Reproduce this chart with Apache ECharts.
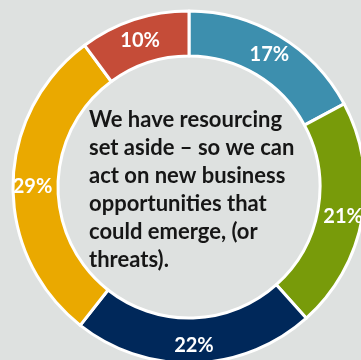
<!DOCTYPE html>
<html>
<head>
<meta charset="utf-8">
<script src="https://cdn.jsdelivr.net/npm/echarts@6/dist/echarts.min.js"></script>
<style>
  html, body { margin: 0; padding: 0; background: #dee1e0; }
  #chart { width: 361px; height: 360px; }
</style>
</head>
<body>
<div id="chart"></div>
<script>
// Share of responses, clockwise from the top
const categories = ['Blue', 'Green', 'Navy', 'Gold', 'Red'];
const values = [17, 21, 22, 29, 10];
const colors = ['#3d8fae', '#789b0a', '#00285a', '#eaa900', '#c54c38'];
const centerLines = [
  'We have resourcing',
  'set aside \u2013 so we can',
  'act on new business',
  'opportunities that',
  'could emerge, (or',
  'threats).'
];

const chart = echarts.init(document.getElementById('chart'), null, { renderer: 'canvas' });

chart.setOption({
  backgroundColor: '#dee1e0',
  animation: false,
  series: [{
    type: 'pie',
    center: [189, 187],
    radius: [131, 176],
    startAngle: 90,
    clockwise: true,
    avoidLabelOverlap: false,
    itemStyle: { borderColor: '#ffffff', borderWidth: 3 },
    label: {
      show: true,
      position: 'inside',
      formatter: '{c}%',
      color: '#ffffff',
      fontFamily: 'Lato',
      fontWeight: 'bold',
      fontSize: 20,
      offset: [0, 2]
    },
    labelLine: { show: false },
    emphasis: { disabled: true },
    data: categories.map((name, i) => ({
      name: name,
      value: values[i],
      itemStyle: { color: colors[i] }
    }))
  }],
  graphic: [{
    type: 'text',
    left: 89,
    top: 106,
    style: {
      text: centerLines.join('\n'),
      fill: '#161616',
      font: 'bold 22px Lato',
      lineHeight: 28,
      textAlign: 'left'
    }
  }]
});
</script>
</body>
</html>
